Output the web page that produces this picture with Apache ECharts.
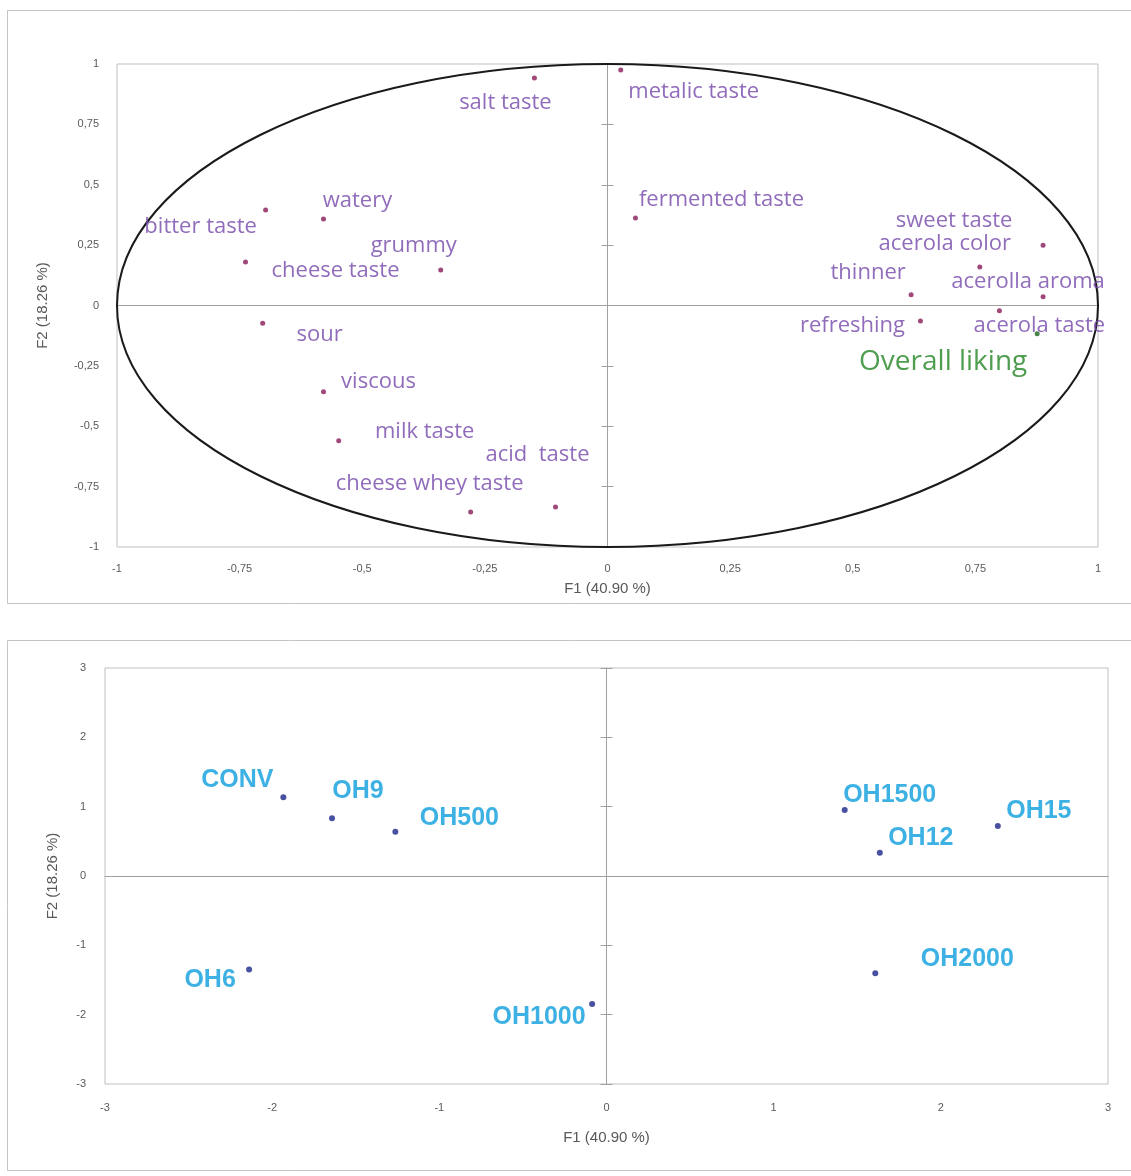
<!DOCTYPE html>
<html>
<head>
<meta charset="utf-8">
<script src="https://cdn.jsdelivr.net/npm/echarts@6/dist/echarts.min.js"></script>
<style>
html, body { margin: 0; padding: 0; background: #fff; }
#main { width: 1131px; height: 1176px; }
</style>
</head>
<body>
<div id="main"></div>
<script>
// correlation circle (variables)
var attrNames = ['salt taste', 'metalic taste', 'watery', 'bitter taste', 'grummy', 'cheese taste',
  'fermented taste', 'sweet taste', 'acerola color', 'thinner', 'acerolla aroma', 'refreshing',
  'acerola taste', 'sour', 'viscous', 'milk taste', 'acid  taste', 'cheese whey taste'];
var attrF1 = [-0.149, 0.027, -0.579, -0.697, -0.340, -0.738, 0.057, 0.888, 0.759, 0.619, 0.888, 0.638,
  0.799, -0.703, -0.579, -0.548, -0.106, -0.279];
var attrF2 = [0.942, 0.975, 0.358, 0.395, 0.147, 0.180, 0.362, 0.249, 0.159, 0.044, 0.036, -0.064,
  -0.022, -0.074, -0.357, -0.560, -0.834, -0.855];
var likingNames = ['Overall liking'];
var likingF1 = [0.876];
var likingF2 = [-0.117];

// observations (samples)
var sampleNames = ['CONV', 'OH9', 'OH500', 'OH1500', 'OH12', 'OH15', 'OH6', 'OH1000', 'OH2000'];
var sampleF1 = [-1.933, -1.642, -1.263, 1.425, 1.635, 2.341, -2.138, -0.086, 1.608];
var sampleF2 = [1.136, 0.833, 0.640, 0.952, 0.336, 0.720, -1.347, -1.847, -1.404];

var circleTicks = ['-1', '-0,75', '-0,5', '-0,25', '0', '0,25', '0,5', '0,75', '1'];
var scoreTicks = ['-3', '-2', '-1', '0', '1', '2', '3'];

// label placement relative to each point, in px
var attrLabelOffset = [[-29, 25], [73, 22], [34, -18], [-65, 17], [-27, -24], [90, 9],
  [86, -18], [-89, -25], [-35, -23], [-43, -22], [-15, -15], [-68, 5],
  [40, 15], [57, 11], [55, -10], [86, -9], [-18, -52], [-41, -28]];
var likingLabelOffset = [[-94, 28]];
var sampleLabelOffset = [[-46, -17], [26, -27], [64, -14], [45, -15], [41, -15], [41, -15],
  [-39, 11], [-53, 13], [92, -14]];

var chart = echarts.init(document.getElementById('main'));

function tickFmt(ticks, min, step) {
  return function (v) { return ticks[Math.round((v - min) / step)]; };
}

function labelAxis(grid, min, max, step, ticks, name, nameGap, margin) {
  return {
    type: 'value', gridIndex: grid, min: min, max: max, interval: step,
    axisLine: { show: false, onZero: false },
    axisTick: { show: false },
    splitLine: { show: false },
    axisLabel: { margin: margin, color: '#595959', fontSize: 11, fontFamily: 'Liberation Sans',
      formatter: tickFmt(ticks, min, step) },
    name: name, nameLocation: 'middle', nameGap: nameGap,
    nameTextStyle: { color: '#595959', fontSize: 15, fontFamily: 'Liberation Sans' }
  };
}

function zeroAxis(grid, min, max, step, showLine, inside) {
  return {
    type: 'value', gridIndex: grid, min: min, max: max, interval: step,
    axisLine: { show: showLine, onZero: true, lineStyle: { color: '#a0a0a0', width: 1 } },
    axisTick: { show: inside !== null, inside: !!inside, length: 6, lineStyle: { color: '#a0a0a0' } },
    axisLabel: { show: false },
    splitLine: { show: false }
  };
}

function pointData(names, xs, ys, offs) {
  return names.map(function (n, i) {
    return { name: n, value: [xs[i], ys[i]], label: { offset: offs[i] } };
  });
}

var option = {
  backgroundColor: '#fff',
  animation: false,
  graphic: [
    { type: 'rect', z: -10, shape: { x: 7.5, y: 10.5, width: 1140, height: 593 },
      style: { fill: 'none', stroke: '#c4c4c4', lineWidth: 1 } },
    { type: 'rect', z: -10, shape: { x: 7.5, y: 640.5, width: 1140, height: 530 },
      style: { fill: 'none', stroke: '#c4c4c4', lineWidth: 1 } }
  ],
  grid: [
    { left: 117, right: 33, top: 64, bottom: 629, show: true, borderColor: '#c0c0c0', borderWidth: 1 },
    { left: 105, right: 23, top: 668, bottom: 92, show: true, borderColor: '#c0c0c0', borderWidth: 1 }
  ],
  xAxis: [
    labelAxis(0, -1, 1, 0.25, circleTicks, 'F1 (40.90 %)', 34, 16),
    zeroAxis(0, -1, 1, 0.25, true, null),
    labelAxis(1, -3, 3, 1, scoreTicks, 'F1 (40.90 %)', 46, 18),
    zeroAxis(1, -3, 3, 1, true, null)
  ],
  yAxis: [
    labelAxis(0, -1, 1, 0.25, circleTicks, 'F2 (18.26 %)', 67, 18),
    zeroAxis(0, -1, 1, 0.25, true, false),
    zeroAxis(0, -1, 1, 0.25, false, true),
    labelAxis(1, -3, 3, 1, scoreTicks, 'F2 (18.26 %)', 45, 19),
    zeroAxis(1, -3, 3, 1, true, false),
    zeroAxis(1, -3, 3, 1, false, true)
  ],
  series: [
    {
      type: 'custom', xAxisIndex: 0, yAxisIndex: 0, silent: true, clip: false, z: 1,
      data: [[0, 0, 1]],
      renderItem: function (params, api) {
        var c = api.coord([api.value(0), api.value(1)]);
        var s = api.size([api.value(2), api.value(2)]);
        return {
          type: 'ellipse',
          shape: { cx: c[0], cy: c[1], rx: s[0], ry: s[1] },
          style: { fill: 'none', stroke: '#1a1a1a', lineWidth: 2 }
        };
      }
    },
    {
      type: 'scatter', xAxisIndex: 0, yAxisIndex: 0, symbolSize: 5, z: 3,
      itemStyle: { color: '#871a57' },
      label: { show: true, position: 'inside', formatter: '{b}', color: '#7447aa',
        fontSize: 22, fontFamily: 'Open Sans' },
      data: pointData(attrNames, attrF1, attrF2, attrLabelOffset)
    },
    {
      type: 'scatter', xAxisIndex: 0, yAxisIndex: 0, symbolSize: 5, z: 3,
      itemStyle: { color: '#1a641a' },
      label: { show: true, position: 'inside', formatter: '{b}', color: '#238423',
        fontSize: 28, fontFamily: 'Open Sans' },
      data: pointData(likingNames, likingF1, likingF2, likingLabelOffset)
    },
    {
      type: 'scatter', xAxisIndex: 2, yAxisIndex: 3, symbolSize: 6, z: 3,
      itemStyle: { color: '#1a2588' },
      label: { show: true, position: 'inside', formatter: '{b}', color: '#0d9ddc',
        fontSize: 25, fontWeight: 'bold', fontFamily: 'Liberation Sans' },
      data: pointData(sampleNames, sampleF1, sampleF2, sampleLabelOffset)
    }
  ]
};

chart.setOption(option);
</script>
</body>
</html>
